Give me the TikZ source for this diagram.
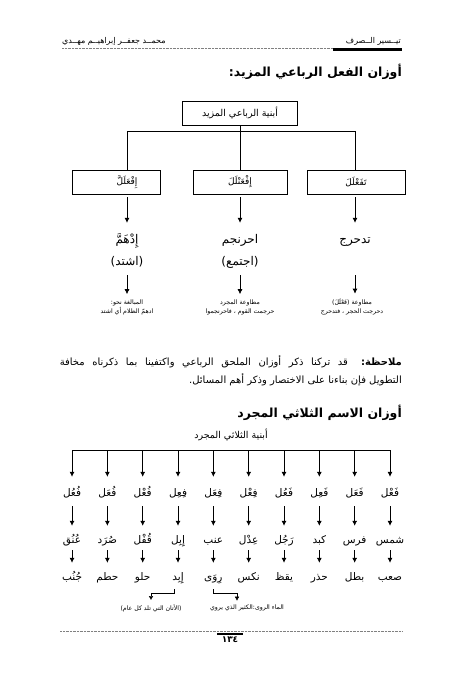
\documentclass[tikz,border=0pt]{standalone}
\usepackage{fontspec}
\newfontfamily\arabicfont[Script=Arabic]{DejaVu Sans}
\TeXXeTstate=1
\usetikzlibrary{arrows.meta,positioning}
\newcommand{\artxt}[1]{\beginR #1\endR}

\begin{document}
\begin{tikzpicture}[x=1pt, y=-1pt,
    wbox/.style={rectangle, draw, line width=0.8pt, minimum height=24pt, inner sep=0pt},
    boxlabel/.style={font=\arabicfont\fontsize{9}{11}\selectfont, inner sep=1pt},
    bigword/.style={font=\arabicfont\fontsize{12}{14}\selectfont, text height=10pt, text depth=4pt, inner sep=0pt},
    rowword/.style={font=\arabicfont\fontsize{10.5}{12}\selectfont, text height=9pt, text depth=3pt, inner sep=0pt},
    note/.style={font=\arabicfont\fontsize{6.2}{9}\selectfont, align=center, inner sep=0pt},
    heading/.style={font=\arabicfont\bfseries\fontsize{12.5}{15}\selectfont, anchor=east, inner sep=0pt},
    arrow/.style={-{Latex[length=5pt,width=5pt]}, line width=0.7pt},
    thinarrow/.style={-{Latex[length=4pt,width=4.5pt]}, line width=0.4pt}
  ]
    \fill[white] (0,0) rectangle (463,680);
    \useasboundingbox (0,0) rectangle (463,680);

    % page header
    \node[font=\arabicfont\fontsize{8}{10}\selectfont, anchor=east, inner sep=0pt] (book) at (401,41) {\artxt{تيــسير الــصرف}};
    \node[font=\arabicfont\fontsize{8}{10}\selectfont, anchor=west, inner sep=0pt] (author) at (62,41) {\artxt{محمــد جعفــر إبراهيــم مهــدي}};
    \draw[densely dotted, gray, line width=0.4pt] (62,48.5) -- (333,48.5);
    \draw[line width=2.4pt] (333,49.5) -- (402,49.5);

    \node[heading] (title1) at (402,72) {\artxt{أوزان الفعل الرباعي المزيد:}};

    % quadrilateral augmented verbs
    \node[wbox, minimum width=115pt, boxlabel, font=\arabicfont\fontsize{9.5}{11}\selectfont] (root) at (240,113) {\artxt{أبنية الرباعي المزيد}};

    \node[wbox, minimum width=88pt] (b1) at (116,182) {};
    \node[boxlabel] (l1) at (127,182) {\artxt{إِفْعَلَلَّ}};
    \node[wbox, minimum width=94pt, boxlabel] (b2) at (240,182) {\artxt{إِفْعَنْلَلَ}};
    \node[wbox, minimum width=98pt, boxlabel] (b3) at (356,182) {\artxt{تَفَعْلَلَ}};

    \coordinate (j1) at (127,131);
    \coordinate (j3) at (355,131);
    \draw[line width=0.7pt] (root.south) -- (b2.north);
    \draw[line width=0.7pt] (j1) -- (j3);
    \draw[line width=0.7pt] (j1) -- (j1 |- b1.north);
    \draw[line width=0.7pt] (j3) -- (j3 |- b3.north);

    \node[bigword] (w1) at (127,240) {\artxt{إِدْهَمَّ}};
    \node[bigword] (w2) at (240,240) {\artxt{احرنجم}};
    \node[bigword] (w3) at (355,240) {\artxt{تدحرج}};
    \node[bigword] (p1) at (127,262) {\artxt{(اشتد)}};
    \node[bigword] (p2) at (240,262) {\artxt{(اجتمع)}};
    \coordinate (p3) at (355,275);

    \node[note] (n1) at (127,307) {\artxt{المبالغة نحو:}\\\artxt{ادهمّ الظلام أي اشتد}};
    \node[note] (n2) at (240,307) {\artxt{مطاوعة المجرد}\\\artxt{حرجمت القوم ، فاحرنجموا}};
    \node[note] (n3) at (352,307) {\artxt{مطاوعة (فَعْلَلَ)}\\\artxt{دحرجت الحجر ، فتدحرج}};

    \draw[arrow, shorten <=3pt, shorten >=10pt] (b1.south -| w1) -- (w1.north);
    \draw[arrow, shorten <=3pt, shorten >=10pt] (b2.south) -- (w2.north);
    \draw[arrow, shorten <=3pt, shorten >=10pt] (b3.south -| w3) -- (w3.north);
    \draw[arrow, shorten <=6pt, shorten >=5pt] (p1.south) -- (n1.north -| p1);
    \draw[arrow, shorten <=6pt, shorten >=5pt] (p2.south) -- (n2.north -| p2);
    \draw[arrow, shorten >=5pt] (p3) -- (n3.north -| p3);

    % note paragraph
    \node[font=\arabicfont\fontsize{10}{12}\selectfont, anchor=east, inner sep=0pt] (para1) at (402,362)
      {\makebox[342pt][s]{\artxt{{\bfseries ملاحظة:} قد تركنا ذكر أوزان الملحق الرباعي واكتفينا بما ذكرناه مخافة}}};
    \node[font=\arabicfont\fontsize{10}{12}\selectfont, anchor=east, inner sep=0pt] (para2) at (402,380)
      {\artxt{التطويل فإن بناءنا على الاختصار وذكر أهم المسائل.}};

    \node[heading] (title2) at (402,413) {\artxt{أوزان الاسم الثلاثي المجرد}};

    % triliteral noun patterns
    \node[font=\arabicfont\fontsize{9.5}{11}\selectfont, inner sep=0pt] (root2) at (231,435) {\artxt{أبنية الثلاثي المجرد}};
    \foreach \i in {0,...,9}
      \coordinate (t\i) at ({390-35.33*\i},450);
    \draw[line width=0.7pt] (t0) -- (t9);

    \foreach \w [count=\i from 0] in {فَعْل,فَعَل,فَعِل,فَعُل,فِعْل,فِعَل,فِعِل,فُعْل,فُعَل,فُعُل}
      \node[rowword] (a\i) at ({390-35.33*\i},493) {\artxt{\w}};
    \foreach \w [count=\i from 0] in {شمس,فرس,كبد,رَجُل,عِدْل,عنب,إِبِل,قُفْل,صُرَد,عُنُق}
      \node[rowword] (b\i) at ({390-35.33*\i},540) {\artxt{\w}};
    \foreach \w [count=\i from 0] in {صعب,بطل,حذر,يقظ,نكس,رِوَى,إِبِد,حلو,حطم,جُنُب}
      \node[rowword] (c\i) at ({390-35.33*\i},577) {\artxt{\w}};

    \foreach \i in {0,...,9} {
      \draw[arrow, shorten >=10pt] (t\i) -- (a\i.north);
      \draw[arrow, shorten <=7pt, shorten >=8pt] (a\i.south) -- (b\i.north);
      \draw[arrow, shorten <=4pt, shorten >=8pt] (b\i.south) -- (c\i.north);
    }

    \node[note] (g1) at (151,608) {\artxt{(الأتان التي تلد كل عام)}};
    \node[note] (g2) at (247,608) {\artxt{الماء الروى:الكثير الذي يروي}};
    \draw[thinarrow] ([xshift=-4pt, yshift=-6pt]c6.south) -- ++(0,4) -| ([yshift=4pt]g1.north);
    \draw[thinarrow] ([yshift=-6pt]c5.south) -- ++(0,4) -| ([xshift=-10pt, yshift=4pt]g2.north);

    % page footer
    \draw[densely dotted, gray, line width=0.4pt] (60,631) -- (402,631);
    \draw[line width=2pt] (217,633.5) -- (243,633.5);
    \node[font=\arabicfont\bfseries\fontsize{9}{11}\selectfont, inner sep=0pt] (pageno) at (230,640) {١٣٤};
\end{tikzpicture}
\end{document}
